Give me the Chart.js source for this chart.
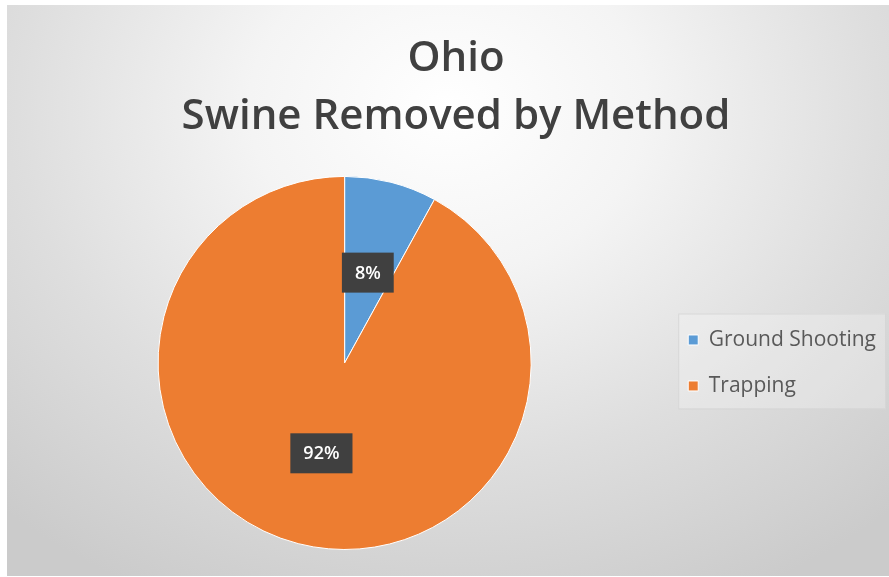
<!DOCTYPE html>
<html>
<head>
<meta charset="utf-8">
<script src="https://cdn.jsdelivr.net/npm/chart.js@4/dist/chart.umd.min.js"></script>
<style>
  html, body { margin: 0; padding: 0; background: #fff; }
  .chart-box {
    position: absolute; left: 7px; top: 5px; width: 882px; height: 571px;
    background: radial-gradient(ellipse 75% 95% at 50% 18%, #ffffff 0%, #f4f4f4 30%, #dedede 65%, #cbcbcb 100%);
  }
</style>
</head>
<body>
<div class="chart-box"><canvas id="pie" width="882" height="571"></canvas></div>
<script>
const titleLines = ["Ohio", "Swine Removed by Method"];
const methods = ["Ground Shooting", "Trapping"];
const shares = [8, 92];
const sliceColors = ["#5B9BD5", "#ED7D31"];

/**
 * Dark boxed percentage labels in the middle of each slice
 */
const sliceLabels = {
    id: "sliceLabels",
    afterDatasetsDraw(chart) {
        const ctx = chart.ctx;
        const meta = chart.getDatasetMeta(0);
        ctx.save();
        ctx.font = "600 18px 'Open Sans'";
        ctx.textAlign = "center";
        ctx.textBaseline = "middle";
        meta.data.forEach((arc, i) => {
            const pos = arc.tooltipPosition();
            const text = shares[i] + "%";
            const w = ctx.measureText(text).width + 26;
            const h = 40;
            ctx.fillStyle = "#404040";
            ctx.fillRect(pos.x - w / 2, pos.y - h / 2, w, h);
            ctx.fillStyle = "#ffffff";
            ctx.fillText(text, pos.x, pos.y + 1);
        });
        ctx.restore();
    }
};

/**
 * Thin frame behind the legend items
 */
const legendFrame = {
    id: "legendFrame",
    beforeDraw(chart) {
        const boxes = chart.legend.legendHitBoxes;
        if (!boxes || !boxes.length) return;
        const left = Math.min(...boxes.map(b => b.left)) - 10;
        const top = Math.min(...boxes.map(b => b.top)) - 16;
        const right = Math.max(...boxes.map(b => b.left + b.width)) + 9;
        const bottom = Math.max(...boxes.map(b => b.top + b.height)) + 12;
        const ctx = chart.ctx;
        ctx.save();
        ctx.fillStyle = "rgba(255,255,255,0.25)";
        ctx.fillRect(left, top, right - left, bottom - top);
        ctx.strokeStyle = "#d6d6d6";
        ctx.lineWidth = 1;
        ctx.strokeRect(left + 0.5, top + 0.5, right - left, bottom - top);
        ctx.restore();
    }
};

new Chart(document.getElementById("pie"), {
    type: "pie",
    data: {
        labels: methods,
        datasets: [{
            data: shares,
            backgroundColor: sliceColors,
            borderColor: "#ffffff",
            borderWidth: 1,
        }],
    },
    options: {
        responsive: false,
        animation: false,
        layout: { padding: { left: 19, right: 3, top: 0, bottom: 26 } },
        plugins: {
            title: {
                display: true,
                text: titleLines,
                color: "#404040",
                font: { family: "'Open Sans'", size: 42, weight: "600", lineHeight: 1.38 },
                padding: { top: 25, bottom: 30 },
            },
            legend: {
                position: "right",
                fullSize: false,
                labels: {
                    color: "#595959",
                    font: { family: "'Open Sans'", size: 21 },
                    boxWidth: 10,
                    boxHeight: 10,
                    padding: 25,
                },
            },
            tooltip: { enabled: false },
        },
    },
    plugins: [legendFrame, sliceLabels],
});
</script>
</body>
</html>
